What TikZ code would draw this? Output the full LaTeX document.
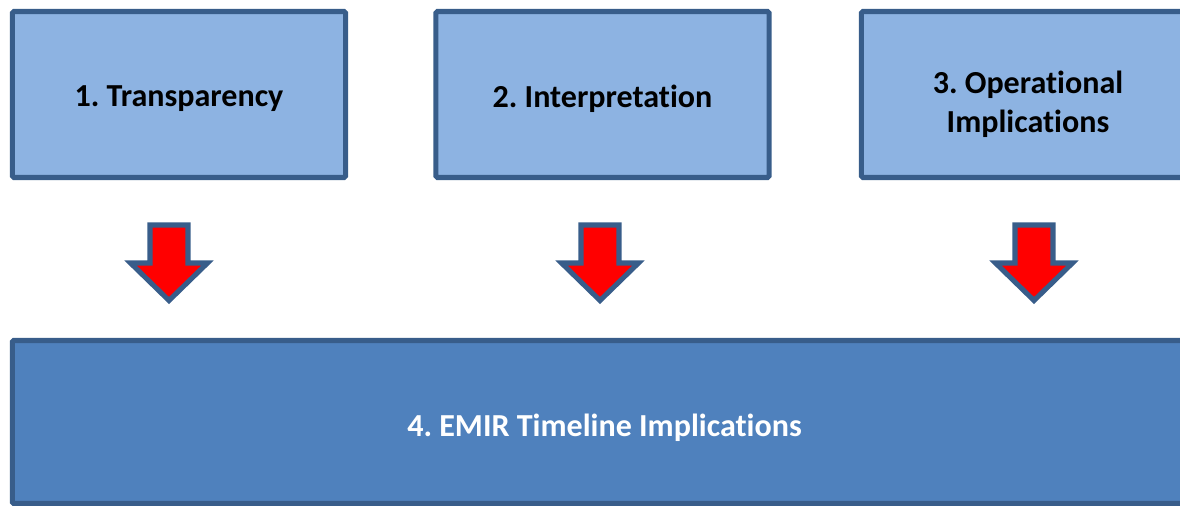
\documentclass[tikz,border=0pt]{standalone}
\usepackage{fontspec}
\setmainfont{Carlito}[Ligatures={NoCommon}]
\frenchspacing
\definecolor{boxline}{HTML}{385D8A}
\definecolor{boxfill}{HTML}{8DB3E2}
\definecolor{basefill}{HTML}{4F81BD}
\tikzset{
  stage/.style={draw=boxline, fill=boxfill, line width=3.6pt, rounded corners=1pt,
    minimum width=8.325cm, minimum height=4.15cm, align=center,
    font=\fontsize{22.8pt}{27.7pt}\selectfont\bfseries},
  base/.style={stage, fill=basefill, text=white, minimum width=29.6cm, minimum height=4.075cm},
  downarrow/.style={draw=boxline, fill=red, line width=3.6pt}
}
\begin{document}
\begin{tikzpicture}[x=0.025cm, y=-0.025cm]
\useasboundingbox (0,0) rectangle (1180,506);
\node[stage] (t) at (179,94.5) {\raisebox{-0.1cm}[\height][\depth]{1. Transparency}};
\node[stage] (i) at (602.5,94.5) {\raisebox{-0.1cm}[\height][\depth]{2. Interpretation}};
\node[stage] (o) at (1028,94.5) {\raisebox{-0.27cm}[\height][\depth]{\begin{tabular}{@{}c@{}}3. Operational\\Implications\end{tabular}}};
\node[base] (e) at (604.5,422) {\raisebox{-0.15cm}[\height][\depth]{4. EMIR Timeline Implications}};
\foreach \c in {169,600,1034}
  \draw[downarrow] (\c-19,225) -- (\c+19,225) -- (\c+19,263) -- (\c+38.5,263)
    -- (\c,300.5) -- (\c-38.5,263) -- (\c-19,263) -- cycle;
\end{tikzpicture}
\end{document}
